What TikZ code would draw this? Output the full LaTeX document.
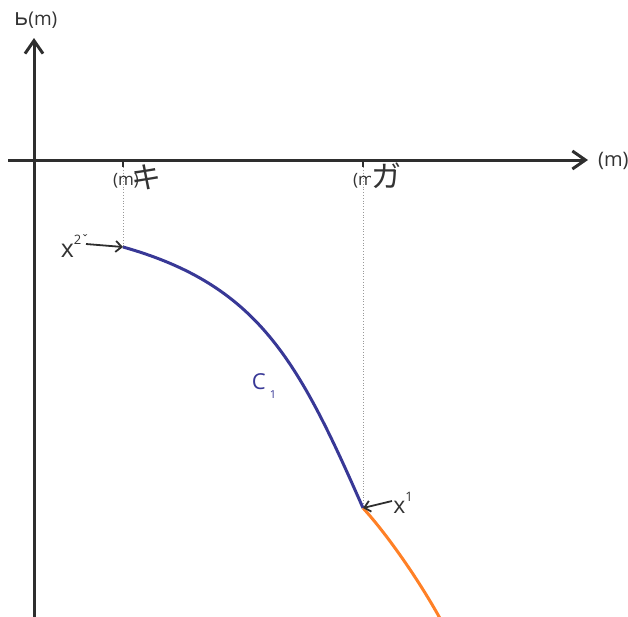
\documentclass[tikz,border=0pt]{standalone}
\usepackage{fontspec}
\setmainfont{Open Sans}
\newfontfamily\cjk{Noto Sans CJK JP}
\usetikzlibrary{arrows.meta}
\definecolor{axisgray}{HTML}{2E2E2E}
\definecolor{textgray}{HTML}{333333}
\definecolor{curveblue}{HTML}{383896}
\definecolor{curveorange}{HTML}{FF8026}
\tikzset{
  axisline/.style={line width=3pt, draw=axisgray, -{Straight Barb[length=13pt,width=18pt,line width=3pt]}},
  tickline/.style={line width=1.5pt, draw=axisgray},
  guide/.style={draw=gray!80, line width=0.8pt, dotted},
  pointer/.style={draw=axisgray, line width=1.8pt, -{Straight Barb[length=6pt,width=11pt,line width=1.8pt]}},
  lbl/.style={inner sep=0pt, text=textgray},
  bluecurve/.style={draw=curveblue, line width=3pt},
  orangecurve/.style={draw=curveorange, line width=3pt},
}
\begin{document}
\begin{tikzpicture}[x=1pt,y=-1pt]
\clip (0,0) rectangle (628,616);
\useasboundingbox (0,0) rectangle (628,616);
% axes
\coordinate (ybot) at (34,620);
\coordinate (ytop) at (34,38);
\coordinate (xleft) at (8,160);
\coordinate (xright) at (588,160);
\draw[axisline] (ybot) -- (ytop);
\draw[axisline] (xleft) -- (xright);
% axis labels
\node[lbl, anchor=base west] (ylab) at (14,25) {\fontsize{24}{24}\selectfont ь\fontsize{19}{19}\selectfont(m)};
\node[lbl, anchor=west, font=\fontsize{20}{20}\selectfont] (xlab) at (598,161) {(m)};
% ticks
\coordinate (t1) at (123,160);
\coordinate (t1b) at (123,167);
\coordinate (t2) at (363,160);
\coordinate (t2b) at (363,167);
\draw[tickline] (t1) -- (t1b);
\draw[tickline] (t2) -- (t2b);
\node[lbl, font=\fontsize{17}{17}\selectfont] (t1lab) at (126,181) {(m)};
\node[lbl, font=\cjk\fontsize{30}{30}\selectfont] (t1cjk) at (146,177) {キ};
\node[lbl, font=\fontsize{17}{17}\selectfont] (t2lab) at (366,181) {(m)};
\node[lbl, font=\cjk\fontsize{30}{30}\selectfont, fill=white, inner sep=0pt] (t2cjk) at (386,176) {ガ};
% curve points
\coordinate (p0) at (123,247);
\coordinate (p1) at (363,508);
\coordinate (p2) at (442,622);
\draw[guide] (t1b) -- (p0);
\draw[guide] (t2b) -- (p1);
\draw[bluecurve] (p0) .. controls (258,285) and (298,360) .. (p1);
\draw[orangecurve] (p1) .. controls (385,532) and (418,578) .. (p2);
% labels
\node[lbl, font=\fontsize{25}{25}\selectfont] (x2) at (75,246) {x\raisebox{1.0ex}{\fontsize{13}{13}\selectfont 2ˇ}};
\coordinate (a2) at (86,244);
\draw[pointer] (a2) -- (p0);
\node[lbl, text=curveblue, font=\fontsize{22}{22}\selectfont] (c1) at (264,386) {C\raisebox{-0.8ex}{\fontsize{11}{11}\selectfont\hspace{4pt}1}};
\node[lbl, font=\fontsize{23}{23}\selectfont] (x1) at (403,503) {x\raisebox{1.0ex}{\fontsize{13}{13}\selectfont 1}};
\coordinate (a1) at (392,501);
\draw[pointer] (a1) -- (p1);
\end{tikzpicture}
\end{document}
